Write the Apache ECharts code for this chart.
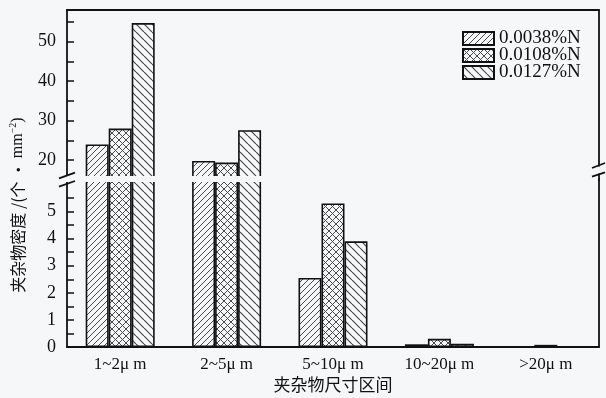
<!DOCTYPE html>
<html>
<head>
<meta charset="utf-8">
<script src="https://cdn.jsdelivr.net/npm/echarts@6/dist/echarts.min.js"></script>
<style>
  html, body { margin: 0; padding: 0; background: #f6f7f9; }
  #chart { width: 606px; height: 398px; }
</style>
</head>
<body>
<div id="chart"></div>
<script>
// Inclusion size classes and densities (per mm²) for three nitrogen contents
const categories = ['1~2μ m', '2~5μ m', '5~10μ m', '10~20μ m', '>20μ m'];
const seriesNames = ['0.0038%N', '0.0108%N', '0.0127%N'];
const n0038 = [24.0, 19.8, 2.55, 0.10, 0];
const n0108 = [28.0, 19.4, 5.30, 0.30, 0.08];
const n0127 = [54.7, 27.6, 3.90, 0.12, 0];

// Broken value axis: upper and lower segments
const upperMin = 15, upperMax = 58;
const upperTicks = [20, 25, 30, 35, 40, 45, 50, 55];
const upperLabels = [20, 30, 40, 50];
const lowerMin = 0, lowerMax = 6.2;
const lowerTicks = [0, 0.5, 1, 1.5, 2, 2.5, 3, 3.5, 4, 4.5, 5, 5.5];
const lowerLabels = [0, 1, 2, 3, 4, 5];

const BG = '#f6f7f9';
const INK = '#111';
const SERIF = '"Liberation Serif", "DejaVu Serif", serif';
const CJK = '"Noto Sans CJK SC", sans-serif';

// Hatch tiles drawn onto small canvases and used as repeating fills
function hatch(size, dirs, lw, color) {
  const c = document.createElement('canvas');
  c.width = size; c.height = size;
  const g = c.getContext('2d');
  g.fillStyle = BG;
  g.fillRect(0, 0, size, size);
  g.strokeStyle = color;
  g.lineWidth = lw;
  g.beginPath();
  for (let k = -1; k <= 1; k++) {
    if (dirs.includes('/')) { g.moveTo(k * size, size); g.lineTo(k * size + size, 0); }
    if (dirs.includes('\\')) { g.moveTo(k * size, 0); g.lineTo(k * size + size, size); }
  }
  g.stroke();
  return { image: c, repeat: 'repeat' };
}
const fills = [
  hatch(6, '/', 1, '#4a4a4a'),
  hatch(7, '/\\', 1, '#4a4a4a'),
  hatch(8, '\\', 1.2, '#4a4a4a')
];
const values = [n0038, n0108, n0127];

const axisLine = { show: true, lineStyle: { color: INK, width: 1.8 } };

const series = [];
[0, 1].forEach(function (gi) {
  values.forEach(function (arr, i) {
    series.push({
      type: 'bar',
      name: seriesNames[i],
      xAxisIndex: gi,
      yAxisIndex: gi === 0 ? 0 : 2,
      data: gi === 0 ? arr.map(v => (v > upperMin ? v : '-')) : arr,
      barWidth: 23,
      barGap: '0%',
      clip: true,
      itemStyle: { color: fills[i], borderColor: INK, borderWidth: 1.6 },
      emphasis: { disabled: true }
    });
  });
});

const chart = echarts.init(document.getElementById('chart'));
chart.setOption({
  backgroundColor: BG,
  animation: false,
  grid: [
    { left: 67, right: 7, top: 10, height: 170 },
    { left: 67, right: 7, top: 179, bottom: 51 }
  ],
  legend: {
    orient: 'vertical',
    left: 462, top: 29, padding: 0,
    itemWidth: 31, itemHeight: 13, itemGap: -2,
    icon: 'rect',
    data: seriesNames,
    textStyle: { fontFamily: SERIF, fontSize: 19, lineHeight: 16, color: INK }
  },
  xAxis: [
    {
      gridIndex: 0, type: 'category', data: categories, position: 'top',
      axisLine: axisLine, axisTick: { show: false }, axisLabel: { show: false }
    },
    {
      gridIndex: 1, type: 'category', data: categories, position: 'bottom',
      axisLine: axisLine, axisTick: { show: false },
      axisLabel: { fontFamily: SERIF, fontSize: 17, color: INK, margin: 9 },
      name: '夹杂物尺寸区间', nameLocation: 'middle', nameGap: 29,
      nameTextStyle: { fontFamily: CJK, fontSize: 17, color: INK }
    }
  ],
  yAxis: [
    {
      gridIndex: 0, type: 'value', min: upperMin, max: upperMax, position: 'left',
      splitLine: { show: false }, axisLine: axisLine,
      axisTick: { show: true, inside: true, length: 7, customValues: upperTicks, lineStyle: { color: INK, width: 1.5 } },
      axisLabel: { customValues: upperLabels, fontFamily: SERIF, fontSize: 18, color: INK, margin: 11 }
    },
    {
      gridIndex: 0, type: 'value', min: upperMin, max: upperMax, position: 'right',
      splitLine: { show: false }, axisLine: axisLine,
      axisTick: { show: false }, axisLabel: { show: false }
    },
    {
      gridIndex: 1, type: 'value', min: lowerMin, max: lowerMax, position: 'left',
      splitLine: { show: false }, axisLine: axisLine,
      axisTick: { show: true, inside: true, length: 7, customValues: lowerTicks, lineStyle: { color: INK, width: 1.5 } },
      axisLabel: { customValues: lowerLabels, fontFamily: SERIF, fontSize: 18, color: INK, margin: 11 }
    },
    {
      gridIndex: 1, type: 'value', min: lowerMin, max: lowerMax, position: 'right',
      splitLine: { show: false }, axisLine: axisLine,
      axisTick: { show: false }, axisLabel: { show: false }
    }
  ],
  series: series,
  graphic: [
    // gap of the broken axis, hiding the cut edges of the tall bars
    { type: 'rect', z: 100, shape: { x: 56, y: 176, width: 536, height: 6 }, style: { fill: BG } },
    { type: 'rect', z: 100, shape: { x: 594, y: 166.5, width: 12, height: 7 }, style: { fill: BG } },
    // break marks
    { type: 'line', z: 101, shape: { x1: 59, y1: 178.3, x2: 75, y2: 172.7 }, style: { stroke: INK, lineWidth: 1.8 } },
    { type: 'line', z: 101, shape: { x1: 59, y1: 186.7, x2: 75, y2: 181 }, style: { stroke: INK, lineWidth: 1.8 } },
    { type: 'line', z: 101, shape: { x1: 592, y1: 168, x2: 605, y2: 163 }, style: { stroke: INK, lineWidth: 1.8 } },
    { type: 'line', z: 101, shape: { x1: 592, y1: 176.7, x2: 605, y2: 172.3 }, style: { stroke: INK, lineWidth: 1.8 } },
    // y-axis title
    {
      type: 'text', z: 101, x: 18, y: 205, rotation: Math.PI / 2,
      style: {
        text: '{a|夹杂物密度 /(个 · }{b|mm}{s|−2}{b|)}',
        align: 'center', verticalAlign: 'middle',
        rich: {
          a: { fontFamily: CJK, fontSize: 16, fill: INK, lineHeight: 20 },
          b: { fontFamily: SERIF, fontSize: 16, fill: INK, lineHeight: 20 },
          s: { fontFamily: SERIF, fontSize: 10, fill: INK, lineHeight: 20, verticalAlign: 'top' }
        }
      }
    }
  ]
});
</script>
</body>
</html>
